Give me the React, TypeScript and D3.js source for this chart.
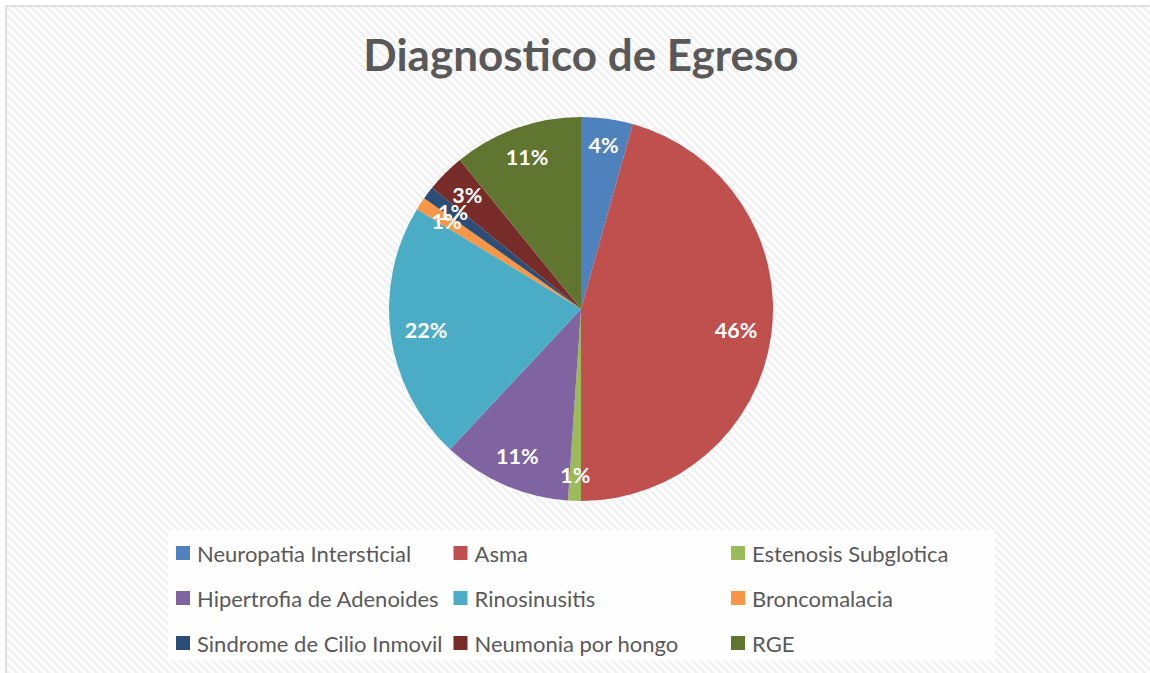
import React from "react";
import * as d3 from "d3";

const categories = [
  "Neuropatia Intersticial",
  "Asma",
  "Estenosis Subglotica",
  "Hipertrofia de Adenoides",
  "Rinosinusitis",
  "Broncomalacia",
  "Sindrome de Cilio Inmovil",
  "Neumonia por hongo",
  "RGE",
];
const values = [4, 42, 1, 10, 20, 1, 1, 3, 10];
const colors = [
  "#4F81BD",
  "#C0504D",
  "#9BBB59",
  "#8064A2",
  "#4BACC6",
  "#F79646",
  "#2C4D75",
  "#772C2A",
  "#5F7530",
];
const title = "Diagnostico de Egreso";

const W = 1150;
const H = 673;
const cx = 581;
const cy = 309;
const R = 192;
const FONT = "Lato, 'Open Sans', sans-serif";

export default function App() {
  const total = d3.sum(values);
  const pie = d3
    .pie<number>()
    .sort(null)
    .value((d) => d)(values);
  const arc = d3.arc<d3.PieArcDatum<number>>().innerRadius(0).outerRadius(R);
  const labelFs = 21.5;

  const legendX = 168;
  const legendY = 530;
  const legendW = 827;
  const legendH = 131;
  const colW = 277.5;
  const rowH = 45;

  return (
    <svg
      width={W}
      height={H}
      style={{ position: "absolute", left: 0, top: 0 }}
      fontFamily={FONT}
    >
      <defs>
        <pattern id="diag" width={8} height={8} patternUnits="userSpaceOnUse">
          <rect width={8} height={8} fill="#fefefe" />
          <path d="M-2,-2 L10,10 M-2,6 L2,10 M6,-2 L10,2" stroke="#f0f0f0" strokeWidth={2.4} />
        </pattern>
      </defs>
      <rect x={0} y={0} width={W} height={H} fill="#ffffff" />
      <rect x={6} y={6} width={W + 10} height={H + 10} fill="url(#diag)" stroke="#d9d9d9" strokeWidth={1.5} />
      <text
        x={cx}
        y={71}
        textAnchor="middle"
        fontSize={44}
        fontWeight={700}
        fill="#595959"
      >
        {title}
      </text>
      <g transform={`translate(${cx},${cy})`}>
        {pie.map((p, i) => (
          <path key={i} d={arc(p) || ""} fill={colors[i]} />
        ))}
        {pie.map((p, i) => {
          const label = `${Math.round((values[i] / total) * 100)}%`;
          const a = (p.startAngle + p.endAngle) / 2;
          const ux = Math.sin(a);
          const uy = -Math.cos(a);
          const w = label.length * 0.6 * labelFs;
          const h = 20;
          const extent = Math.abs(ux) * (w / 2) + Math.abs(uy) * (h / 2);
          const dist = R - 15 - extent;
          return (
            <text
              key={"l" + i}
              x={ux * dist}
              y={uy * dist}
              textAnchor="middle"
              dominantBaseline="central"
              fontSize={labelFs}
              fontWeight={700}
              fill="#ffffff"
            >
              {label}
            </text>
          );
        })}
      </g>
      <rect x={legendX} y={legendY} width={legendW} height={legendH} fill="#ffffff" opacity={0.85} />
      {categories.map((c, i) => {
        const col = i % 3;
        const row = Math.floor(i / 3);
        const x = 176 + col * colW;
        const y = 553 + row * rowH;
        return (
          <g key={"lg" + i}>
            <rect x={x} y={y - 7} width={14} height={14} fill={colors[i]} />
            <text x={x + 21} y={y} dominantBaseline="central" fontSize={22} fill="#595959">
              {c}
            </text>
          </g>
        );
      })}
    </svg>
  );
}
